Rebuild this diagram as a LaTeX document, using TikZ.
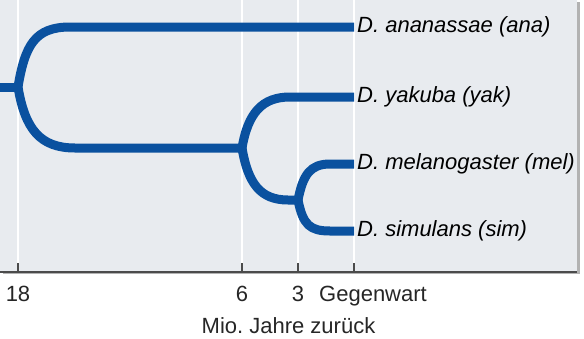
\documentclass[tikz,border=0pt]{standalone}
\usepackage{fontspec}
\setmainfont{Liberation Sans}
\usetikzlibrary{shadows}
\definecolor{astblau}{RGB}{10,81,159}
\definecolor{hintergrund}{RGB}{232,235,239}
\definecolor{achsgrau}{RGB}{75,75,75}
\begin{document}
\begin{tikzpicture}[x=1pt, y=-1pt,
				ast/.style={draw=astblau, line width=9pt, line cap=butt, line join=round},   %Aeste
				art/.style={anchor=west, inner xsep=3pt, font=\fontsize{22}{26}\selectfont\itshape},
				skala/.style={anchor=base, inner sep=0pt, text=black!85, font=\fontsize{22}{26}\selectfont}]
				\useasboundingbox (0,0) rectangle (584,338);
				% Hintergrund
				\fill[hintergrund, drop shadow={shadow xshift=3pt, shadow yshift=-2pt, opacity=.3, fill=black}] (0,0) rectangle (577,272);
				% Gitterlinien und Achse
				\foreach \x in {18,242,298,354} \draw[white, line width=1.2pt] (\x,0) -- (\x,272);
				\foreach \x in {18,242,298,354} \draw[achsgrau, line width=1.3pt] (\x,263) -- (\x,272);
				\draw[achsgrau, line width=2pt] (0,272) -- (577,272);
				% Achsen beschriften
				\node[skala] (t18) at (18,301) {18};
				\node[skala] (t6) at (242,301) {6};
				\node[skala] (t3) at (298,301) {3};
				\node[skala, anchor=base west] (heute) at (319,301) {Gegenwart};
				\node[skala] (titel) at (288.5,333) {Mio.\ Jahre zurück};
				% Verzweigungen
				\coordinate (wurzel) at (0,87);
				\coordinate (k18) at (18,87);
				\coordinate (k6) at (242,148);
				\coordinate (k3) at (298,200);
				\coordinate (b1) at (70,27);
				\coordinate (b2) at (75,148);
				\coordinate (b3) at (290,97);
				\coordinate (b4) at (288,200);
				\coordinate (b5) at (330,164);
				\coordinate (b6) at (330,231);
				% Arten
				\node[art] (ana) at (354,27) {D. ananassae (ana)};
				\node[art] (yak) at (354,97) {D. yakuba (yak)};
				\node[art] (mel) at (354,164) {D. melanogaster (mel)};
				\node[art] (sim) at (354,231) {D. simulans (sim)};
				% Baum zeichnen
				\draw[ast] (wurzel) -- (k18);
				\draw[ast] (k18) .. controls +(7,-42) and +(-35,0) .. (b1) -- (ana.west);
				\draw[ast] (k18) .. controls +(7,42) and +(-35,0) .. (b2) -- (k6);
				\draw[ast] (k6) .. controls +(6,-35) and +(-28,0) .. (b3) -- (yak.west);
				\draw[ast] (k6) .. controls +(6,35) and +(-28,0) .. (b4) -- (k3);
				\draw[ast] (k3) .. controls +(5,-25) and +(-20,0) .. (b5) -- (mel.west);
				\draw[ast] (k3) .. controls +(5,25) and +(-20,0) .. (b6) -- (sim.west);
			\end{tikzpicture}
\end{document}
